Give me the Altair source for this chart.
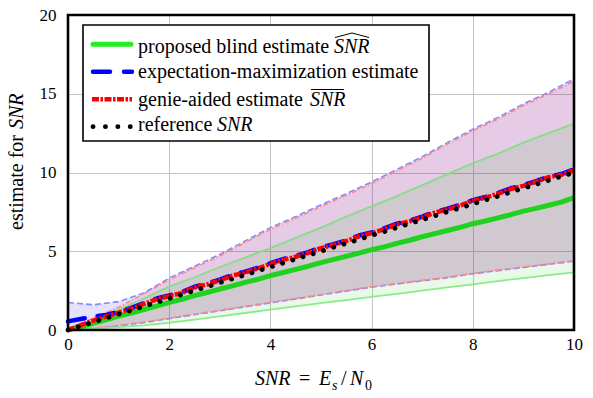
import altair as alt
import pandas as pd

# ---------------- data ----------------
X_MEAN = [0.0, 0.25, 0.5, 0.75, 1.0, 1.25, 1.5, 1.75, 2.0, 2.25, 2.5, 2.75, 3.0, 3.25, 3.5, 3.75,
          4.0, 4.25, 4.5, 4.75, 5.0, 5.25, 5.5, 5.75, 6.0, 6.25, 6.5, 6.75, 7.0, 7.25, 7.5, 7.75,
          8.0, 8.25, 8.5, 8.75, 9.0, 9.25, 9.5, 9.75, 10.0]
GENIE_MEAN = [0.00, 0.30, 0.60, 0.85, 1.10, 1.35, 1.65, 1.95, 2.15, 2.35, 2.70, 2.90, 3.15, 3.45,
              3.65, 3.90, 4.20, 4.45, 4.65, 4.90, 5.20, 5.40, 5.65, 5.95, 6.15, 6.40, 6.70, 6.90,
              7.15, 7.45, 7.65, 7.90, 8.20, 8.40, 8.65, 8.95, 9.15, 9.40, 9.70, 9.85, 10.15]
EM_MEAN = [0.55, 0.70, 0.85, 0.95, 1.15, 1.40, 1.70, 2.00, 2.20, 2.40, 2.75, 2.95, 3.20, 3.50,
           3.70, 3.95, 4.25, 4.50, 4.70, 4.95, 5.25, 5.45, 5.70, 6.00, 6.20, 6.45, 6.75, 6.95,
           7.20, 7.50, 7.70, 7.95, 8.25, 8.45, 8.70, 9.00, 9.20, 9.45, 9.75, 9.90, 10.20]
BLIND_MEAN = [0.00, 0.20, 0.42, 0.65, 0.88, 1.08, 1.30, 1.52, 1.75, 1.95, 2.18, 2.38, 2.60, 2.80,
              3.02, 3.22, 3.45, 3.65, 3.85, 4.05, 4.28, 4.48, 4.68, 4.88, 5.10, 5.28, 5.50, 5.70,
              5.92, 6.12, 6.32, 6.52, 6.75, 6.92, 7.12, 7.32, 7.55, 7.72, 7.92, 8.12, 8.40]

X_BAND = [0.0, 0.5, 1.0, 1.5, 2.0, 2.5, 3.0, 3.5, 4.0, 4.5, 5.0, 5.5, 6.0, 6.5, 7.0, 7.5,
          8.0, 8.5, 9.0, 9.5, 10.0]
BLIND_HI = [0.0, 0.6, 1.3, 2.0, 2.75, 3.35, 4.0, 4.6, 5.2, 5.85, 6.5, 7.2, 7.85, 8.5, 9.2, 9.9,
            10.6, 11.2, 11.9, 12.5, 13.1]
BLIND_LO = [0.0, 0.08, 0.18, 0.3, 0.46, 0.66, 0.87, 1.08, 1.3, 1.5, 1.7, 1.9, 2.1, 2.3, 2.5, 2.7,
            2.9, 3.1, 3.3, 3.48, 3.66]
GENIE_HI = [0.1, 0.75, 1.45, 2.3, 3.2, 3.95, 4.7, 5.55, 6.4, 7.1, 7.85, 8.55, 9.3, 10.1, 10.9,
            11.8, 12.65, 13.4, 14.25, 15.0, 15.8]
GENIE_LO = [0.0, 0.12, 0.3, 0.5, 0.75, 1.0, 1.25, 1.5, 1.75, 2.0, 2.25, 2.5, 2.75, 2.95, 3.15,
            3.35, 3.6, 3.8, 4.0, 4.2, 4.4]
EM_HI = [1.75, 1.6, 1.8, 2.35, 3.3, 4.05, 4.8, 5.65, 6.5, 7.2, 7.95, 8.65, 9.4, 10.2, 11.0,
         11.9, 12.75, 13.5, 14.35, 15.1, 15.95]
EM_LO = [0.0, 0.1, 0.27, 0.47, 0.72, 0.97, 1.22, 1.47, 1.72, 1.97, 2.22, 2.47, 2.72, 2.92, 3.12,
         3.32, 3.57, 3.77, 3.97, 4.17, 4.37]

REF_X = [0.0, 10.0]
REF_Y = [0.0, 10.0]

X_TICKS = [0, 2, 4, 6, 8, 10]
Y_TICKS = [0, 5, 10, 15, 20]

LEGEND_LABELS = ["proposed blind estimate", "expectation-maximization estimate",
                 "genie-aided estimate", "reference"]

# ---------------- layout ----------------
W, H = 506, 315
SERIF = "Liberation Serif"

xs = alt.Scale(domain=[0, 10], nice=False, zero=False)
ys = alt.Scale(domain=[0, 20], nice=False, zero=False)

AX_X = alt.Axis(values=X_TICKS, title=None, grid=True, ticks=False, domain=False,
                labelFont=SERIF, labelFontSize=17, labelColor="black", labelPadding=6,
                labelFlush=False, gridColor="#c4c4c4", gridWidth=1)
AX_Y = alt.Axis(values=Y_TICKS, title=None, grid=True, ticks=False, domain=False,
                labelFont=SERIF, labelFontSize=17, labelColor="black", labelPadding=12,
                labelFlush=False, gridColor="#c4c4c4", gridWidth=1)

band_df = pd.DataFrame({"x": X_BAND, "bhi": BLIND_HI, "blo": BLIND_LO, "ghi": GENIE_HI,
                        "glo": GENIE_LO, "ehi": EM_HI, "elo": EM_LO})
mean_df = pd.DataFrame({"x": X_MEAN, "genie": GENIE_MEAN, "em": EM_MEAN, "blind": BLIND_MEAN})
ref_df = pd.DataFrame({"x": REF_X, "y": REF_Y})


def X():
    return alt.X("x:Q", scale=xs, axis=AX_X)


def Y(field):
    return alt.Y(f"{field}:Q", scale=ys, axis=AX_Y)


def area(lo, hi, color, op):
    return alt.Chart(band_df).mark_area(color=color, opacity=op).encode(
        x=X(), y=Y(hi), y2=alt.Y2(f"{lo}:Q"))


def bline(df, field, color, width, dash=None, cap="butt"):
    kw = dict(color=color, strokeWidth=width, strokeCap=cap, strokeJoin="round")
    if dash is not None:
        kw["strokeDash"] = dash
    return alt.Chart(df).mark_line(**kw).encode(x=X(), y=Y(field))


layers = [
    area("elo", "ehi", "#0000ff", 0.11),
    area("glo", "ghi", "#ff0000", 0.10),
    area("blo", "bhi", "#00c000", 0.09),
    bline(band_df, "ehi", "#8888ff", 1.6, [6, 3]),
    bline(band_df, "elo", "#8888ff", 1.6, [6, 3]),
    bline(band_df, "ghi", "#ff8888", 1.6, [5, 2, 1.5, 2]),
    bline(band_df, "glo", "#ff8888", 1.6, [5, 2, 1.5, 2]),
    bline(band_df, "bhi", "#88dd88", 1.8),
    bline(band_df, "blo", "#88ee88", 1.8),
    bline(mean_df, "blind", "#1ed21e", 5),
    bline(mean_df, "em", "#0000ff", 4.5, [17, 13], "round"),
    bline(mean_df, "genie", "#ff0000", 4.5, [7, 1.5, 2.5, 1.5]),
    bline(ref_df, "y", "black", 4.8, [0.1, 10.6], "round"),
]

ONE = alt.Data(values=[{}])


def vrect(x1, y1, x2, y2, **kw):
    return alt.Chart(ONE).mark_rect(**kw).encode(
        x=alt.value(x1), x2=alt.value(x2), y=alt.value(y1), y2=alt.value(y2))


def vrule(x1, y1, x2, y2, **kw):
    return alt.Chart(ONE).mark_rule(**kw).encode(
        x=alt.value(x1), x2=alt.value(x2), y=alt.value(y1), y2=alt.value(y2))


def vtext(x, y, txt, size=20, italic=False, angle=0, align="left"):
    kw = dict(font=SERIF, fontSize=size, align=align, baseline="alphabetic", color="black",
              angle=angle)
    if italic:
        kw["fontStyle"] = "italic"
    return alt.Chart(ONE).mark_text(**kw).encode(
        x=alt.value(x), y=alt.value(y), text=alt.value(txt))


# legend
layers.append(vrect(15, 10, 361, 126, fill="white", stroke="black", strokeWidth=1.6))
SYM_X1, SYM_X2, TXT_X = 25, 63, 70
ROW_SYM = [29.3, 56.7, 84.3, 111.7]
ROW_TXT = [38.3, 63.3, 91.0, 115.7]
layers += [
    vrule(SYM_X1, ROW_SYM[0], SYM_X2, ROW_SYM[0], color="#22ee22", strokeWidth=5, strokeCap="round"),
    vrule(SYM_X1, ROW_SYM[1], SYM_X2 + 1, ROW_SYM[1], color="#0000ff", strokeWidth=4.5,
          strokeCap="round", strokeDash=[17, 14]),
    vrule(SYM_X1 - 1, ROW_SYM[2], SYM_X2 + 1, ROW_SYM[2], color="#ff0000", strokeWidth=4.5,
          strokeDash=[7, 1.5, 2.5, 1.5]),
    vrule(SYM_X1, ROW_SYM[3], SYM_X2 + 2, ROW_SYM[3], color="black", strokeWidth=4.8,
          strokeCap="round", strokeDash=[0.1, 12.3]),
]
for i, lab in enumerate(LEGEND_LABELS):
    layers.append(vtext(TXT_X, ROW_TXT[i], lab))
layers += [
    vtext(266, ROW_TXT[0], "SNR", italic=True),
    vrule(267, 22.5, 284, 18, color="black", strokeWidth=1),
    vrule(284, 18, 301, 22.5, color="black", strokeWidth=1),
    vtext(242, ROW_TXT[2], "SNR", italic=True),
    vrule(243, 74.5, 276, 74.5, color="black", strokeWidth=1),
    vtext(149, ROW_TXT[3], "SNR", italic=True),
]

# axis titles
layers += [
    vtext(187, 370, "SNR", size=20, italic=True),
    vtext(231, 370, "=", size=20),
    vtext(251, 370, "E", size=20, italic=True),
    vtext(264, 375, "s", size=14, italic=True),
    vtext(273, 370, "/", size=20),
    vtext(282, 370, "N", size=20, italic=True),
    vtext(297, 375, "0", size=14),
    vtext(-45, 215, "estimate for", size=20, angle=270),
    vtext(-45, 114, "SNR", size=20, italic=True, angle=270),
]

# frame
layers.append(vrect(0, 0, W, H, fillOpacity=0, stroke="black", strokeWidth=2.6))

chart = alt.layer(*layers).properties(
    width=W, height=H,
    autosize=alt.AutoSizeParams(type="none"),
    padding={"left": 60, "top": 7, "right": 11, "bottom": 60},
).configure_view(strokeWidth=0)

chart.save("out.html", embed_options={"renderer": "svg", "actions": False})
